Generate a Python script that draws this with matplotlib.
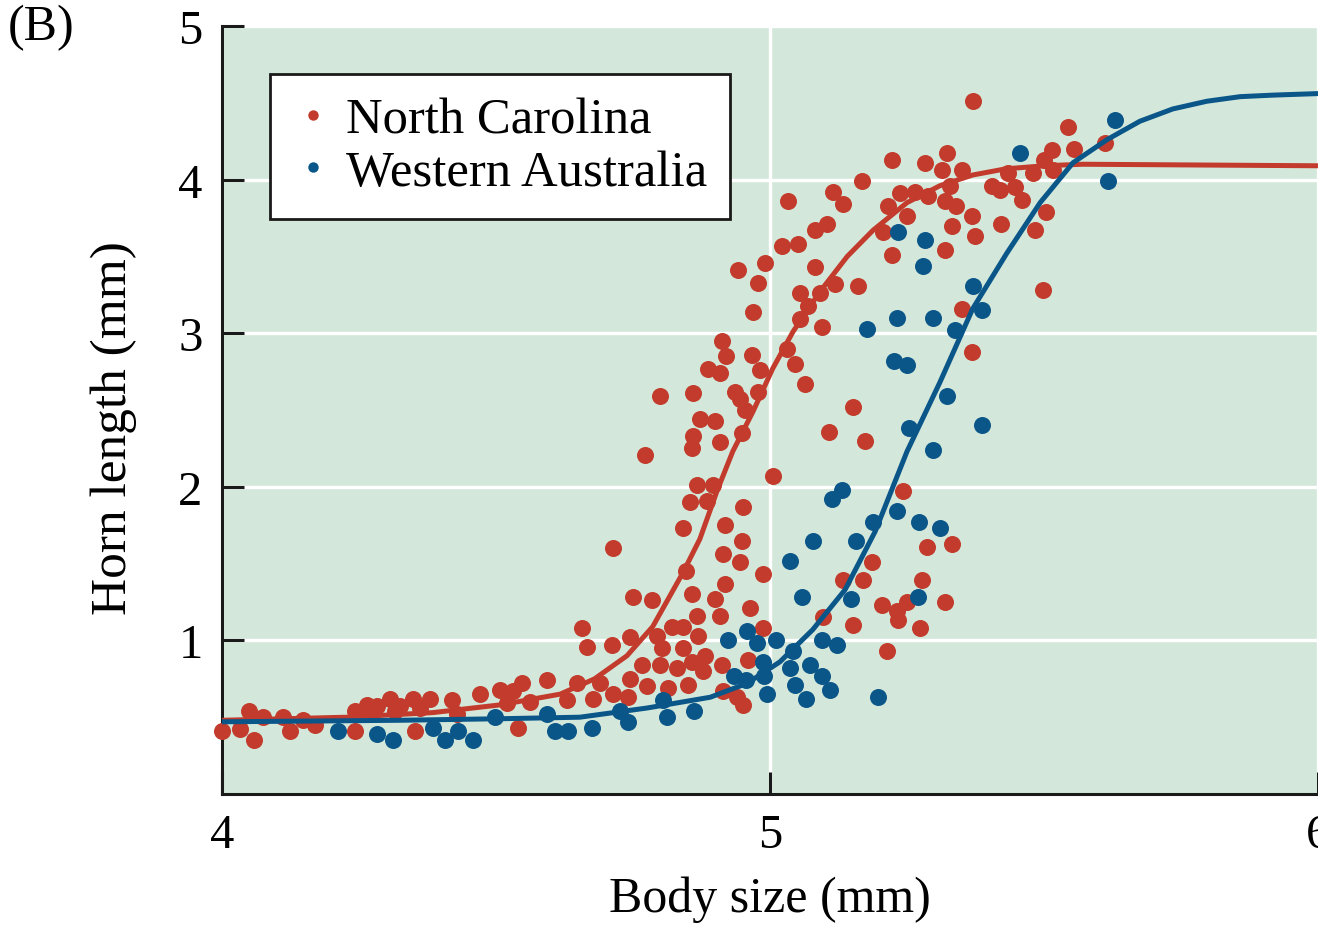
import matplotlib
matplotlib.use('Agg')
import matplotlib.pyplot as plt
from matplotlib.lines import Line2D

plt.rcParams['font.family'] = ['Liberation Serif', 'DejaVu Serif']

# Datos (mm)
nc_x = [4.000, 4.033, 4.049, 4.058, 4.075, 4.111, 4.124, 4.148, 4.170, 4.243, 4.243, 4.265,
        4.283, 4.307, 4.325, 4.349, 4.352, 4.361, 4.380, 4.420, 4.429, 4.471, 4.507, 4.520,
        4.531, 4.547, 4.540, 4.562, 4.593, 4.630, 4.648, 4.657, 4.666, 4.677, 4.270, 4.316,
        4.714, 4.841, 4.918, 4.949, 4.914, 4.945, 4.847, 4.987, 4.918, 4.750, 4.785, 4.858,
        4.900, 4.964, 4.867, 4.909, 4.821, 4.841, 4.987, 4.794, 4.869, 4.745, 4.712, 4.803,
        4.841, 4.881, 4.858, 4.766, 4.799, 4.830, 4.878, 4.912, 4.960, 4.690, 4.745, 4.776,
        4.814, 4.850, 4.714, 4.741, 4.914, 4.940, 4.951, 4.867, 4.896, 4.885, 4.854, 4.951,
        5.097, 5.133, 5.170, 5.186, 5.151, 5.204, 5.232, 5.250, 5.234, 5.214, 5.286, 5.332,
        5.277, 5.319, 5.274, 5.243, 5.005,
        4.772, 4.799, 4.859, 4.858, 4.859, 4.872, 4.900, 4.909, 4.949, 4.954, 4.936, 4.945,
        4.978, 4.912, 4.920, 4.967, 4.887, 4.909, 4.982, 5.031, 5.046, 5.064, 4.969, 4.942,
        4.991, 4.978, 5.022, 5.051, 5.082, 5.104, 5.033, 5.115, 5.133, 5.168, 5.082, 5.055,
        5.069, 5.055, 5.095, 5.091, 5.119, 5.161, 5.151, 5.108, 5.173,
        5.370, 5.544, 5.611, 5.555, 5.515, 5.500, 5.516, 5.480, 5.434, 5.223, 5.283, 5.323,
        5.314, 5.350, 5.328, 5.405, 5.420, 5.447, 5.460, 5.237, 5.265, 5.288, 5.215, 5.319,
        5.339, 5.250, 5.369, 5.504, 5.422, 5.332, 5.206, 5.484, 5.374, 5.223, 5.319, 5.498,
        5.350, 5.369]
nc_y = [0.41, 0.42, 0.54, 0.35, 0.50, 0.50, 0.41, 0.48, 0.45, 0.54, 0.41, 0.58,
        0.57, 0.62, 0.57, 0.62, 0.41, 0.56, 0.62, 0.61, 0.52, 0.65, 0.68, 0.59,
        0.67, 0.72, 0.43, 0.60, 0.74, 0.61, 0.72, 1.08, 0.96, 0.62, 0.52, 0.54,
        1.60, 1.73, 1.75, 1.65, 1.56, 1.51, 1.45, 1.43, 1.37, 1.28, 1.26, 1.30,
        1.27, 1.21, 1.16, 1.16, 1.09, 1.09, 1.08, 1.03, 1.03, 1.02, 0.97, 0.95,
        0.95, 0.90, 0.86, 0.84, 0.84, 0.82, 0.80, 0.84, 0.87, 0.72, 0.75, 0.70,
        0.69, 0.71, 0.65, 0.63, 0.67, 0.63, 0.58, 2.01, 2.01, 1.91, 1.90, 1.87,
        1.15, 1.39, 1.39, 1.51, 1.10, 1.23, 1.19, 1.25, 1.13, 0.93, 1.61, 1.63,
        1.39, 1.25, 1.08, 1.97, 2.07,
        2.21, 2.59, 2.61, 2.25, 2.33, 2.44, 2.43, 2.29, 2.35, 2.50, 2.62, 2.57,
        2.62, 2.95, 2.85, 2.86, 2.77, 2.74, 2.76, 2.90, 2.80, 2.67, 3.14, 3.41,
        3.46, 3.33, 3.57, 3.58, 3.67, 3.71, 3.86, 3.92, 3.84, 3.99, 3.43, 3.26,
        3.18, 3.09, 3.04, 3.26, 3.32, 3.31, 2.52, 2.36, 2.30,
        4.51, 4.34, 4.24, 4.20, 4.19, 4.13, 4.06, 4.04, 4.04, 4.13, 4.11, 4.17,
        4.06, 4.06, 3.96, 3.96, 3.93, 3.95, 3.87, 3.91, 3.92, 3.89, 3.83, 3.86,
        3.83, 3.76, 3.76, 3.79, 3.71, 3.70, 3.66, 3.67, 3.63, 3.51, 3.54, 3.28,
        3.16, 2.88]

wa_x = [4.212, 4.283, 4.312, 4.385, 4.407, 4.431, 4.458, 4.498, 4.593, 4.608, 4.631, 4.675,
        4.726, 4.741, 4.805, 4.812, 4.861, 4.923, 4.958, 4.976, 5.011, 4.934, 4.956, 4.987,
        4.989, 4.995, 5.042, 5.036, 5.073, 5.046, 5.066, 5.095, 5.122, 5.095, 5.109, 5.197,
        5.058, 5.078, 5.036, 5.148, 5.157, 5.113, 5.131, 5.188, 5.232, 5.272, 5.310, 5.270,
        5.177, 5.232, 5.297, 5.338, 5.387, 5.370, 5.226, 5.250, 5.323, 5.254, 5.387, 5.297,
        5.234, 5.283, 5.279, 5.456, 5.630, 5.617]
wa_y = [0.41, 0.39, 0.35, 0.43, 0.35, 0.41, 0.35, 0.50, 0.52, 0.41, 0.41, 0.43,
        0.54, 0.47, 0.61, 0.50, 0.54, 1.00, 1.06, 0.98, 1.00, 0.77, 0.74, 0.86,
        0.77, 0.65, 0.93, 0.82, 0.84, 0.71, 0.62, 1.00, 0.97, 0.77, 0.68, 0.63,
        1.28, 1.65, 1.52, 1.27, 1.65, 1.92, 1.98, 1.77, 1.84, 1.77, 1.73, 1.28,
        3.03, 3.10, 3.10, 3.02, 3.15, 3.31, 2.82, 2.79, 2.59, 2.38, 2.40, 2.24,
        3.66, 3.61, 3.44, 4.17, 4.39, 3.99]

# Curvas ajustadas
nc_fit_x = [4.000, 4.228, 4.385, 4.507, 4.617, 4.680, 4.739, 4.786, 4.841, 4.872, 4.903,
            4.932, 4.969, 5.005, 5.042, 5.091, 5.141, 5.188, 5.250, 5.310, 5.370, 5.430,
            5.500, 5.571, 6.000]
nc_fit_y = [0.48, 0.50, 0.53, 0.58, 0.65, 0.75, 0.90, 1.09, 1.44, 1.66, 1.97,
            2.23, 2.49, 2.77, 3.01, 3.27, 3.50, 3.67, 3.85, 3.96, 4.03, 4.07,
            4.09, 4.10, 4.09]
wa_fit_x = [4.000, 4.325, 4.507, 4.653, 4.776, 4.891, 4.958, 5.018, 5.078, 5.137, 5.192,
            5.250, 5.310, 5.370, 5.432, 5.493, 5.553, 5.615, 5.675, 5.735, 5.797, 5.858,
            5.918, 6.000]
wa_fit_y = [0.47, 0.48, 0.49, 0.50, 0.56, 0.63, 0.72, 0.86, 1.07, 1.33, 1.71,
            2.23, 2.68, 3.16, 3.52, 3.85, 4.11, 4.26, 4.38, 4.46, 4.51, 4.54,
            4.55, 4.56]

red = '#c23b2c'
blue = '#0b5689'
bg = '#d3e8da'

fig = plt.figure(figsize=(13.18, 9.29), dpi=100)
ax = fig.add_axes([222 / 1318, 134 / 929, 1096 / 1318, 768 / 929])
ax.set_facecolor(bg)

ax.scatter(nc_x, nc_y, s=150, color=red, linewidths=0, zorder=3, clip_on=False)
ax.scatter(wa_x, wa_y, s=150, color=blue, linewidths=0, zorder=3, clip_on=False)
ax.plot(nc_fit_x, nc_fit_y, color=red, lw=3.6, zorder=4)
ax.plot(wa_fit_x, wa_fit_y, color=blue, lw=3.6, zorder=4)

ax.set_xlim(4, 6)
ax.set_ylim(0, 5)
ax.set_xticks([4, 5, 6])
ax.set_yticks([1, 2, 3, 4, 5])
ax.grid(True, color='white', lw=2.4, zorder=1)
ax.set_axisbelow(True)

for s in ['top', 'right']:
    ax.spines[s].set_visible(False)
for s in ['left', 'bottom']:
    ax.spines[s].set_linewidth(2.2)
    ax.spines[s].set_color('#1a1a1a')
ax.tick_params(direction='in', length=16, width=2.2, color='#1a1a1a',
               labelsize=35, pad=14)

ax.set_xlabel('Body size (mm)', fontsize=36, labelpad=13)
ax.set_ylabel('Horn length (mm)', fontsize=37)
ax.yaxis.set_label_coords(-0.078, 0.478)
fig.text(0.006, 0.995, '(B)', fontsize=36, va='top', ha='left')

handles = [Line2D([], [], ls='none', marker='o', ms=7.5, color=red, mec='none'),
           Line2D([], [], ls='none', marker='o', ms=7.5, color=blue, mec='none')]
leg = ax.legend(handles, ['North Carolina', 'Western Australia'], loc='upper left',
                bbox_to_anchor=(0.044, 0.9375), borderaxespad=0, fontsize=36.5,
                frameon=True, fancybox=False, framealpha=1, edgecolor='#1a1a1a',
                handletextpad=0.25, handlelength=0.8, labelspacing=0.12,
                borderpad=0.45)
leg.get_frame().set_linewidth(2)
leg.set_zorder(5)

plt.savefig('out.png', dpi=100)
